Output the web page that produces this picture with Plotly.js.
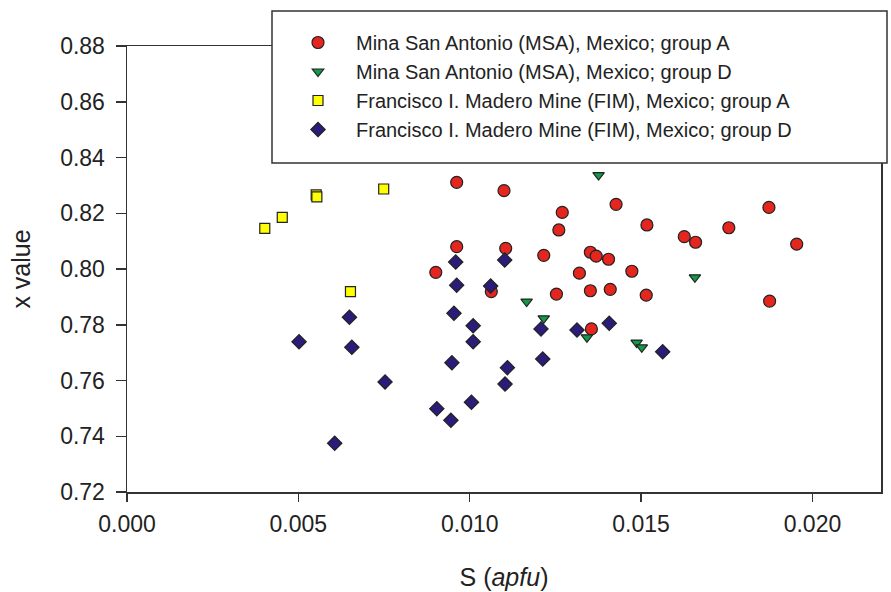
<!DOCTYPE html>
<html>
<head>
<meta charset="utf-8">
<script src="https://cdn.plot.ly/plotly-3.0.1.min.js"></script>
<style>html,body{margin:0;padding:0;background:#fff;}#chart{width:891px;height:592px;}</style>
</head>
<body>
<div id="chart"></div>
<script>
// MSA group A (red circles)
const msaA_x = [0.00962, 0.0110, 0.0127, 0.0126, 0.01427, 0.01517, 0.01873, 0.01756, 0.01626, 0.01659, 0.01954,
                0.00962, 0.01105, 0.01216, 0.01352, 0.01369, 0.01405, 0.00901, 0.0132, 0.01473,
                0.01063, 0.01253, 0.01352, 0.0141, 0.01515, 0.01875, 0.01355];
const msaA_y = [0.8311, 0.8281, 0.8203, 0.8140, 0.8232, 0.8158, 0.8221, 0.8148, 0.8116, 0.8096, 0.8089,
                0.8080, 0.8074, 0.8049, 0.8060, 0.8046, 0.8035, 0.7988, 0.7985, 0.7992,
                0.7919, 0.7910, 0.7922, 0.7927, 0.7906, 0.7885, 0.7785];
// MSA group D (green triangles)
const msaD_x = [0.01376, 0.01657, 0.01166, 0.01216, 0.01342, 0.01487, 0.01502];
const msaD_y = [0.8337, 0.7970, 0.7883, 0.7823, 0.7755, 0.7736, 0.7719];
// FIM group A (yellow squares)
const fimA_x = [0.00402, 0.00453, 0.00552, 0.00554, 0.00749, 0.00652];
const fimA_y = [0.8146, 0.8185, 0.8266, 0.8259, 0.8287, 0.7919];
// FIM group D (navy diamonds)
const fimD_x = [0.00959, 0.01102, 0.00962, 0.01061, 0.00954, 0.0101, 0.0101, 0.01208, 0.01213, 0.00948,
                0.0111, 0.01103, 0.01005, 0.00904, 0.00945, 0.00649, 0.00656, 0.00502, 0.00753, 0.00606,
                0.01313, 0.01407, 0.01563];
const fimD_y = [0.8025, 0.8032, 0.7942, 0.7939, 0.7841, 0.7796, 0.7739, 0.7785, 0.7677, 0.7664,
                0.7646, 0.7587, 0.7522, 0.7499, 0.7457, 0.7827, 0.7719, 0.7739, 0.7595, 0.7375,
                0.7781, 0.7805, 0.7703];

const seriesNames = [
  'Mina San Antonio (MSA), Mexico; group A',
  'Mina San Antonio (MSA), Mexico; group D',
  'Francisco I. Madero Mine (FIM), Mexico; group A',
  'Francisco I. Madero Mine (FIM), Mexico; group D'
];
const xTicks = [0, 0.005, 0.010, 0.015, 0.020];
const xTickText = ['0.000', '0.005', '0.010', '0.015', '0.020'];
const yTicks = [0.72, 0.74, 0.76, 0.78, 0.80, 0.82, 0.84, 0.86, 0.88];
const yTickText = ['0.72', '0.74', '0.76', '0.78', '0.80', '0.82', '0.84', '0.86', '0.88'];

const outline = {color: '#222', width: 1.2};
const traces = [
  {x: msaA_x, y: msaA_y, name: seriesNames[0], legendgroup: 'a', type: 'scatter', mode: 'markers',
   marker: {symbol: 'circle', size: 12, color: '#e5261f', line: outline}},
  {x: msaD_x, y: msaD_y, name: seriesNames[1], legendgroup: 'b', type: 'scatter', mode: 'markers',
   marker: {symbol: 'triangle-down', size: 10, color: '#129a48', line: outline}},
  {x: fimA_x, y: fimA_y, name: seriesNames[2], legendgroup: 'c', type: 'scatter', mode: 'markers',
   marker: {symbol: 'square', size: 10, color: '#ffff00', line: outline}},
  {x: fimD_x, y: fimD_y, name: seriesNames[3], legendgroup: 'd', type: 'scatter', mode: 'markers',
   marker: {symbol: 'diamond', size: 11, color: '#2a1c78', line: outline}}
];

const font = {family: 'Liberation Sans, Arial, sans-serif', color: '#222'};
const L = 127, R = 881, T = 46, B = 492;
const pw = R - L, ph = B - T;
const layout = {
  width: 891, height: 592,
  margin: {l: L, r: 891 - R, t: T, b: 592 - B},
  paper_bgcolor: '#fff', plot_bgcolor: '#fff',
  font: Object.assign({size: 20}, font),
  showlegend: true,
  shapes: [{
    type: 'rect', xref: 'paper', yref: 'paper', layer: 'above',
    x0: (272 - L) / pw, x1: (887 - L) / pw,
    y0: (B - 163) / ph, y1: (B - 11) / ph,
    fillcolor: '#fff', line: {color: '#333', width: 1.5}
  }],
  legend: {
    x: (280 - L) / pw, y: (B - 23) / ph, xanchor: 'left', yanchor: 'top',
    bgcolor: 'rgba(0,0,0,0)', borderwidth: 0,
    font: Object.assign({size: 20}, font),
    traceorder: 'grouped', tracegroupgap: 0,
    itemwidth: 66
  },
  xaxis: {
    range: [0, 0.022], tickvals: xTicks, ticktext: xTickText,
    showgrid: false, zeroline: false, showline: true, mirror: true,
    linecolor: '#333', linewidth: 1.5,
    ticks: 'outside', ticklen: 8, tickcolor: '#333', tickwidth: 1.5,
    ticklabelstandoff: 3,
    tickfont: Object.assign({size: 23}, font),
    title: {text: 'S (<i>apfu</i>)', font: Object.assign({size: 25}, font), standoff: 32}
  },
  yaxis: {
    range: [0.72, 0.88], tickvals: yTicks, ticktext: yTickText,
    showgrid: false, zeroline: false, showline: true, mirror: true,
    linecolor: '#333', linewidth: 1.5,
    ticks: 'outside', ticklen: 10, tickcolor: '#333', tickwidth: 1.5,
    ticklabelstandoff: 6,
    tickfont: Object.assign({size: 23}, font),
    title: {text: 'x value', font: Object.assign({size: 25}, font), standoff: 22}
  }
};

Plotly.newPlot('chart', traces, layout, {displayModeBar: false, staticPlot: true});
</script>
</body>
</html>
